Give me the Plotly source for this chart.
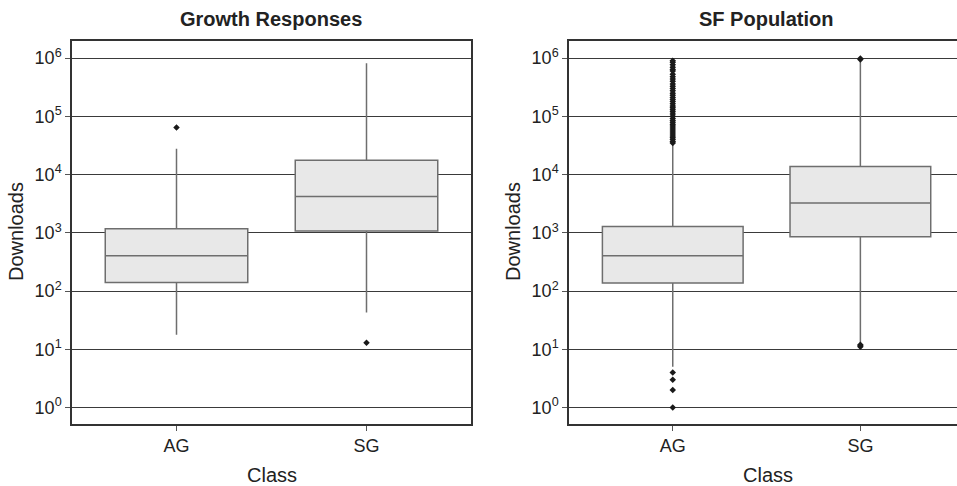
import plotly.graph_objects as go

# ---- data ----
classes = ["AG", "SG"]
class_pos = [0, 1]

# Growth Responses panel
gr_q1 = [140, 1070]
gr_median = [403, 4220]
gr_q3 = [1172, 17700]
gr_lower = [17.7, 43]
gr_upper = [27700, 813000]
gr_out_ag = [64600]
gr_out_sg = [12.9]

# SF Population panel
sf_q1 = [138, 857]
sf_median = [405, 3250]
sf_q3 = [1288, 13800]
sf_lower = [5, 12]
sf_upper = [34000, 930000]
sf_out_ag = [1, 2, 3, 4,
             35000, 37000, 40000, 43000, 46000, 50000, 54000, 58000, 63000,
             68000, 73000, 79000, 85000, 92000, 100000, 110000, 120000,
             130000, 140000, 150000, 165000, 180000, 195000, 210000, 230000,
             250000, 275000, 300000, 330000, 360000, 400000, 440000, 480000,
             530000, 600000, 640000, 700000, 770000, 850000, 900000]
sf_out_sg = [11, 11.5, 12, 950000, 980000]

yticks = [1, 10, 100, 1000, 10000, 100000, 1000000]
ytick_text = ["10<sup>0</sup>", "10<sup>1</sup>", "10<sup>2</sup>", "10<sup>3</sup>",
              "10<sup>4</sup>", "10<sup>5</sup>", "10<sup>6</sup>"]

FONT = "Liberation Sans, Arial, Helvetica, sans-serif"
TXT = "#222222"
BOXLINE = "#6e6e6e"
BOXFILL = "#e8e8e8"
PT = "#1a1a1a"

fig = go.Figure()

def add_panel(q1, med, q3, lo, hi, out_ag, out_sg, xa, ya):
    fig.add_trace(go.Box(
        x=class_pos, q1=q1, median=med, q3=q3, lowerfence=lo, upperfence=hi,
        width=0.75, whiskerwidth=0, boxpoints=False,
        fillcolor=BOXFILL, line=dict(color=BOXLINE, width=1.5),
        xaxis=xa, yaxis=ya, showlegend=False, hoverinfo="skip"))
    fig.add_trace(go.Scatter(
        x=[class_pos[0]] * len(out_ag) + [class_pos[1]] * len(out_sg),
        y=out_ag + out_sg, mode="markers",
        marker=dict(symbol="diamond", size=5, color=PT, line=dict(width=0)),
        xaxis=xa, yaxis=ya, showlegend=False, hoverinfo="skip"))

add_panel(gr_q1, gr_median, gr_q3, gr_lower, gr_upper, gr_out_ag, gr_out_sg, "x", "y")
add_panel(sf_q1, sf_median, sf_q3, sf_lower, sf_upper, sf_out_ag, sf_out_sg, "x2", "y2")

W, H = 957, 486
ydom = [(H - 424) / H, (H - 40.7) / H]

common_x = dict(tickvals=class_pos, ticktext=classes, showgrid=False, zeroline=False,
                showline=True, linecolor="#333333", linewidth=1.5,
                ticks="outside", ticklen=5, tickcolor="#555555",
                tickfont=dict(family=FONT, size=18, color=TXT))
common_y = dict(type="log", range=[-0.283, 6.299], tickvals=yticks, ticktext=ytick_text,
                showgrid=True, gridcolor="#3a3a3a", gridwidth=1, zeroline=False,
                showline=True, linecolor="#333333", linewidth=1.5,
                ticks="outside", ticklen=5, tickcolor="#555555",
                tickfont=dict(family=FONT, size=18, color=TXT))

fig.update_layout(
    width=W, height=H, margin=dict(l=0, r=0, t=0, b=0),
    paper_bgcolor="white", plot_bgcolor="white",
    xaxis=dict(domain=[72 / W, 471 / W], range=[-0.55, 1.55], mirror=True,
               anchor="y", **common_x),
    yaxis=dict(domain=ydom, mirror=True, anchor="x", **common_y),
    xaxis2=dict(domain=[569 / W, 1.0], range=[-0.553, 1.515], mirror=True,
                anchor="y2", **common_x),
    yaxis2=dict(domain=ydom, mirror=False, anchor="x2", **common_y),
)

ann = []
def txt(x, y, s, size=16, bold=False, angle=0):
    ann.append(dict(x=x / W, y=1 - y / H, xref="paper", yref="paper", text=("<b>%s</b>" % s) if bold else s,
                    showarrow=False, textangle=angle, xanchor="center", yanchor="middle",
                    font=dict(family=FONT, size=size, color=TXT)))

txt(271, 19, "Growth Responses", size=20, bold=True)
txt(766, 19, "SF Population", size=20, bold=True)
txt(272, 475, "Class", size=20)
txt(768, 475, "Class", size=20)
txt(16, 232, "Downloads", size=20, angle=-90)
txt(513, 232, "Downloads", size=20, angle=-90)
fig.update_layout(annotations=ann)

fig.write_html("out.html")
